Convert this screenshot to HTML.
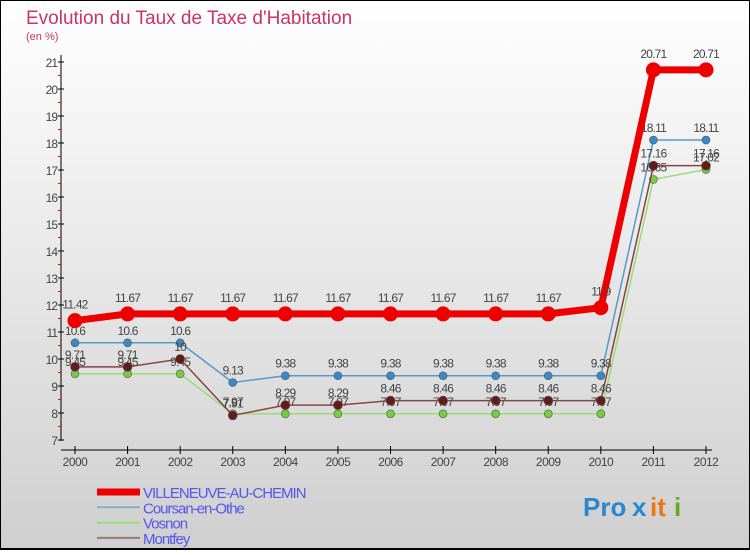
<!DOCTYPE html>
<html><head><meta charset="utf-8"><style>
html,body{margin:0;padding:0}
body{width:750px;height:550px;overflow:hidden;font-family:"Liberation Sans",sans-serif}
</style></head><body>
<svg id="chart" width="750" height="550" xmlns="http://www.w3.org/2000/svg">
<defs><linearGradient id="bg" x1="0" y1="0" x2="0" y2="1"><stop offset="0" stop-color="#ffffff"/><stop offset="1" stop-color="#cfcfcf"/></linearGradient></defs>
<rect x="0.5" y="0.5" width="749" height="549" fill="url(#bg)" stroke="#000" stroke-width="1"/>
<rect x="0" y="548" width="750" height="2" fill="#000"/>
<text x="26" y="24" font-size="19" fill="#cc3366">Evolution du Taux de Taxe d'Habitation</text>
<text x="26" y="40" font-size="11" fill="#cc3366">(en %)</text>
<g id="axes"></g>
<g id="series"></g>
<g id="legend"></g>
<g font-size="26" font-weight="bold">
<text x="583" y="516" fill="#2a88cc">Pro</text><text x="632" y="516" fill="#2a88cc">x</text><text x="650" y="516" fill="#ee7711">it</text><text x="674" y="516" fill="#66aa22">i</text>
</g>
</svg>
<script>
const years=[2000,2001,2002,2003,2004,2005,2006,2007,2008,2009,2010,2011,2012];
const yTicks=[7,8,9,10,11,12,13,14,15,16,17,18,19,20,21];
const villeneuve=[11.42,11.67,11.67,11.67,11.67,11.67,11.67,11.67,11.67,11.67,11.9,20.71,20.71];
const coursan=[10.6,10.6,10.6,9.13,9.38,9.38,9.38,9.38,9.38,9.38,9.38,18.11,18.11];
const vosnon=[9.45,9.45,9.45,7.97,7.97,7.97,7.97,7.97,7.97,7.97,7.97,16.65,17.02];
const montfey=[9.71,9.71,10,7.91,8.29,8.29,8.46,8.46,8.46,8.46,8.46,17.16,17.16];
const names=["VILLENEUVE-AU-CHEMIN","Coursan-en-Othe","Vosnon","Montfey"];
const NS="http://www.w3.org/2000/svg";
const X=i=>75+i*(706-75)/12;
const Y=v=>440-(v-7)*(440-62)/14;
function mk(t,a,p){const e=document.createElementNS(NS,t);for(const k in a)e.setAttribute(k,a[k]);p.appendChild(e);return e;}
const ax=document.getElementById('axes');
let l=mk('line',{x1:61,y1:55,x2:61,y2:441,stroke:'#000','stroke-width':1},ax);


l=mk('line',{x1:61,y1:450,x2:712,y2:450,stroke:'#000','stroke-width':1},ax);


yTicks.forEach(v=>{
  mk('line',{x1:58,y1:Y(v),x2:64,y2:Y(v),stroke:'#000'},ax);
  if(v<21)mk('line',{x1:58,y1:Y(v+0.5),x2:61,y2:Y(v+0.5),stroke:'#f00'},ax);
  const t=mk('text',{x:57,y:Y(v)+5,'text-anchor':'end','font-size':12,fill:'#444','letter-spacing':'-1'},ax);
  t.textContent=v;
  
  
});
years.forEach((yr,i)=>{
  mk('line',{x1:X(i),y1:446,x2:X(i),y2:454,stroke:'#000'},ax);
  const t=mk('text',{x:X(i),y:466,'text-anchor':'middle','font-size':12,fill:'#444','letter-spacing':'-0.5'},ax);
  t.textContent=yr;
  
  
});
const sg=document.getElementById('series');
const defs=[[coursan,'#5599cc','#3a88cc',1.5,4],[vosnon,'#99dd77','#77cc44',1.5,4],[montfey,'#884444','#661a1a',1.5,4.5],[villeneuve,'#ee0000','#ee0000',7,7.5]];
const order=[1,2,3,0];
defs.forEach((d,k)=>{
  const [data,lc,mc,w,r]=d;
  const g=mk('g',{},sg);
  
  
  mk('polyline',{points:data.map((v,i)=>X(i)+','+Y(v)).join(' '),fill:'none',stroke:lc,'stroke-width':w},g);
  data.forEach((v,i)=>{
    const c=mk('circle',{cx:X(i),cy:Y(v),r:r,fill:mc,stroke:'#555','stroke-width':k==3?0:0.6},g);
    
    
    const t=mk('text',{x:X(i),y:Y(v)-(k==3?12:8),'text-anchor':'middle','font-size':12,fill:'#444','letter-spacing':'-0.8'},g);
    t.textContent=v;
    
    
  });
});
const lg=document.getElementById('legend');
const lcol=['#ee0000','#88aacc','#99dd77','#997777'];const lw=[7,2,2,2];
names.forEach((n,i)=>{
  const yy=492+i*15.3;
  const g=mk('g',{},lg);
  
  
  mk('line',{x1:97,y1:yy,x2:140,y2:yy,stroke:lcol[i],'stroke-width':lw[i]},g);
  const t=mk('text',{x:143,y:yy+6,'font-size':15,fill:'#5555ee','letter-spacing':'-1'},g);
  t.textContent=n;
});
</script>
</body></html>
